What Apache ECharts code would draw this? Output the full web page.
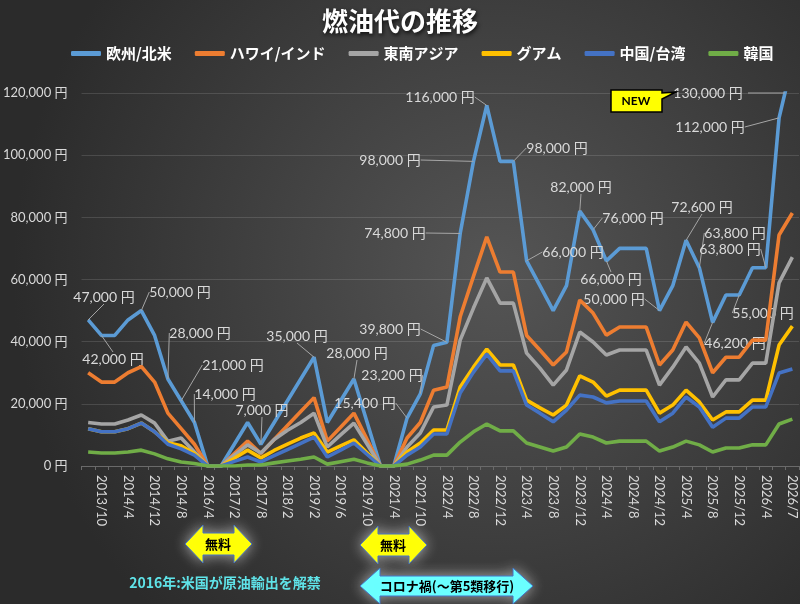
<!DOCTYPE html>
<html>
<head>
<meta charset="utf-8">
<script src="https://cdn.jsdelivr.net/npm/echarts@6/dist/echarts.min.js"></script>
<style>
  html, body { margin: 0; padding: 0; background: #333; }
  #chart { width: 800px; height: 604px; }
</style>
</head>
<body>
<div id="chart"></div>
<script>
// tick labels (shown on every other point)
const tickLabels = ['2013/10', '2014/4', '2014/12', '2014/8', '2016/4', '2017/2', '2017/8', '2018/2',
  '2019/2', '2019/6', '2019/10', '2021/4', '2021/10', '2022/4', '2022/8', '2022/12', '2023/4',
  '2023/8', '2023/12', '2024/4', '2024/8', '2024/12', '2025/4', '2025/8', '2025/12', '2026/4', '2026/7'];

const seriesNames = ['欧州/北米', 'ハワイ/インド', '東南アジア', 'グアム', '中国/台湾', '韓国'];

const europe = [47000, 42000, 42000, 47000, 50000, 42000, 28000, 21000, 14000, 0,
  0, 7000, 14000, 7000, 14000, 21000, 28000, 35000, 14000, 21000,
  28000, 14000, 0, 0, 15400, 23200, 38800, 39800, 74800, 98000,
  116000, 98000, 98000, 66000, 58000, 50000, 58000, 82000, 76000, 66000,
  70000, 70000, 70000, 50000, 58000, 72600, 63800, 46200, 55000, 55000,
  63800, 63800, 112000, 130000];
const hawaii = [30000, 27000, 27000, 30000, 32000, 27000, 17000, 12000, 7000, 0,
  0, 4000, 8000, 4000, 8500, 13000, 17500, 22000, 8000, 12500,
  17000, 8500, 0, 0, 9000, 14000, 24400, 25400, 48000, 61000,
  73700, 62400, 62400, 42000, 37300, 32500, 36700, 53400, 49200, 42100,
  44700, 44700, 44700, 32500, 37300, 46300, 41200, 30000, 35000, 35000,
  40500, 40500, 74300, 81400];
const seAsia = [14000, 13500, 13500, 14800, 16400, 13800, 8000, 9000, 4500, 0,
  0, 3500, 6800, 4200, 8500, 11500, 14000, 17000, 6100, 10000,
  13800, 7000, 0, 0, 6100, 10600, 19000, 19600, 40500, 50800,
  60500, 52400, 52400, 36300, 31500, 26000, 30900, 43100, 39900, 35700,
  37300, 37300, 37300, 26000, 31800, 38300, 33100, 22200, 27700, 27700,
  33100, 33100, 58900, 67200];
const guam = [12000, 11000, 11000, 12000, 13800, 11000, 7500, 6500, 4000, 0,
  0, 2500, 5100, 2600, 5000, 7000, 9000, 10600, 4500, 6500,
  8400, 4200, 0, 0, 4500, 7400, 11600, 11600, 25400, 31800,
  37600, 32500, 32500, 21200, 18700, 16400, 19600, 29000, 27000, 22500,
  24400, 24400, 24400, 17000, 19600, 24400, 20600, 14800, 17400, 17400,
  21200, 21200, 38900, 45000];
const chinaTw = [12000, 11000, 11000, 12000, 13800, 11000, 7000, 5500, 3500, 0,
  0, 1500, 2900, 1300, 3300, 5300, 7300, 9300, 2900, 5100,
  7400, 3700, 0, 0, 3500, 6100, 10300, 10300, 23500, 30200,
  36000, 30600, 30600, 19600, 17000, 14200, 18000, 22800, 22200, 20300,
  20900, 20900, 20900, 14200, 17000, 22200, 19000, 12500, 15400, 15400,
  19000, 19000, 29900, 31200];
const korea = [4500, 4200, 4200, 4500, 5100, 3900, 2300, 1300, 800, 0,
  0, 0, 300, 300, 1000, 1600, 2200, 2900, 600, 1400,
  2200, 1000, 0, 0, 600, 1900, 3500, 3500, 7700, 11000,
  13500, 11300, 11300, 7400, 6100, 4800, 6100, 10300, 9300, 7400,
  8000, 8000, 8000, 4800, 6100, 8000, 6800, 4500, 5800, 5800,
  6800, 6800, 13500, 15100];

const colors = ['#5B9BD5', '#ED7D31', '#A5A5A5', '#FFC000', '#4472C4', '#70AD47'];

// where the callout labels of the 欧州/北米 line sit (label centre, px)
const labelPos = {
  0: [104, 297], 1: [113, 359], 4: [180, 292], 6: [200, 333], 7: [233, 365], 8: [225, 394],
  13: [262, 410], 17: [297, 336], 20: [357, 353], 24: [365, 403], 25: [392, 375], 27: [390, 329],
  28: [395, 233], 29: [390, 160], 30: [440, 97], 32: [557, 148], 33: [573, 252], 37: [581, 187],
  38: [633, 218], 39: [611, 279], 43: [614, 299], 45: [702, 207], 46: [735, 233], 47: [735, 343],
  49: [763, 313], 51: [730, 249], 52: [710, 127]
};

const categories = [''];
tickLabels.forEach((t, i) => {
  categories.push(t);
  if (i < tickLabels.length - 1) categories.push('');
});

const numFont = 'Lato, "Noto Sans CJK JP", sans-serif';
const jpFont = '"Noto Sans CJK JP", sans-serif';
const yen = (v) => v.toLocaleString('en-US') + ' 円';

const allData = [europe, hawaii, seAsia, guam, chinaTw, korea];

const series = allData.map((arr, si) => {
  const s = {
    name: seriesNames[si],
    type: 'line',
    data: arr,
    symbol: 'circle',
    symbolSize: 0.01,
    showSymbol: true,
    showAllSymbol: true,
    clip: true,
    lineStyle: { width: 3.6, color: colors[si] },
    itemStyle: { color: colors[si] },
    emphasis: { disabled: true },
    z: 2 + si
  };
  if (si === 0) {
    s.z = 2;
    s.data = arr.map((v, i) => {
      if (!labelPos[i]) return v;
      return {
        value: v,
        label: {
          show: true,
          formatter: yen(v),
          color: '#d9d9d9',
          fontSize: 14,
          fontFamily: numFont
        },
        labelLine: { show: true, lineStyle: { color: '#a6a6a6', width: 1 } }
      };
    });
    s.labelLayout = function (p) {
      const o = labelPos[p.dataIndex];
      if (!o) return {};
      return { x: o[0], y: o[1], align: 'center', verticalAlign: 'middle' };
    };
  }
  return s;
});

function arrow(x0, x1, cy, hh, sh, hl) {
  return [[x0, cy], [x0 + hl, cy - hh], [x0 + hl, cy - sh], [x1 - hl, cy - sh], [x1 - hl, cy - hh],
    [x1, cy], [x1 - hl, cy + hh], [x1 - hl, cy + sh], [x0 + hl, cy + sh], [x0 + hl, cy + hh]];
}

const glow = { shadowBlur: 14, shadowColor: 'rgba(255,255,255,0.55)' };

const myChart = echarts.init(document.getElementById('chart'));
myChart.setOption({
  backgroundColor: {
    type: 'radial', x: 0.62, y: 0.45, r: 0.8,
    colorStops: [{ offset: 0, color: '#555555' }, { offset: 1, color: '#2b2b2b' }]
  },
  color: colors,
  animation: false,
  title: {
    text: '燃油代の推移',
    left: 'center',
    top: 3,
    textStyle: {
      color: '#ffffff', fontSize: 26, fontWeight: 'bold', fontFamily: jpFont,
      textShadowColor: 'rgba(0,0,0,0.8)', textShadowBlur: 4, textShadowOffsetX: 1, textShadowOffsetY: 2
    }
  },
  legend: {
    data: seriesNames,
    top: 41,
    left: 66,
    icon: 'roundRect',
    itemWidth: 30,
    itemHeight: 5,
    itemGap: 23,
    textStyle: { color: '#ffffff', fontSize: 15, fontWeight: 'bold', fontFamily: jpFont }
  },
  grid: { left: 81, right: 1, top: 93, bottom: 138 },
  xAxis: {
    type: 'category',
    data: categories,
    boundaryGap: true,
    axisLine: { lineStyle: { color: '#6a6a6a' } },
    axisTick: { show: true, interval: 0, length: 4, lineStyle: { color: '#6a6a6a' } },
    axisLabel: {
      interval: 0, rotate: -90, margin: 9,
      color: '#d9d9d9', fontSize: 13, fontFamily: numFont
    }
  },
  yAxis: {
    type: 'value',
    min: 0,
    max: 120000,
    interval: 20000,
    axisLine: { show: false },
    axisTick: { show: false },
    splitLine: { lineStyle: { color: 'rgba(255,255,255,0.13)', width: 1 } },
    axisLabel: { formatter: yen, color: '#d9d9d9', fontSize: 13, margin: 14, fontFamily: numFont }
  },
  series: series,
  graphic: [
    // 130,000 円 (clipped point) callout
    { type: 'polyline', shape: { points: [[748, 93], [785, 93]] }, style: { stroke: '#a6a6a6', lineWidth: 1 }, z: 20 },
    { type: 'text', x: 708, y: 93, style: { text: yen(europe[53]), fill: '#d9d9d9', font: '14px ' + numFont, align: 'center', verticalAlign: 'middle' }, z: 20 },
    { type: 'polygon', shape: { points: [[611, 90], [662, 90], [662, 93], [676, 92], [662, 99], [662, 112], [611, 112]] },
      style: { fill: '#ffff00', stroke: '#000000', lineWidth: 1.5 }, z: 20 },
    { type: 'text', x: 636, y: 101, style: { text: 'NEW', fill: '#000', font: 'bold 12px ' + numFont, align: 'center', verticalAlign: 'middle' }, z: 21 },
    // free period arrows
    { type: 'polygon', shape: { points: arrow(185, 252, 544, 19, 11, 18) },
      style: Object.assign({ fill: '#ffff00', stroke: '#4472c4', lineWidth: 1 }, glow), z: 20 },
    { type: 'text', x: 218, y: 544, style: { text: '無料', fill: '#000', font: 'bold 13px ' + jpFont, align: 'center', verticalAlign: 'middle' }, z: 21 },
    { type: 'polygon', shape: { points: arrow(360, 427, 545, 19, 11, 18) },
      style: Object.assign({ fill: '#ffff00', stroke: '#4472c4', lineWidth: 1 }, glow), z: 20 },
    { type: 'text', x: 393, y: 545, style: { text: '無料', fill: '#000', font: 'bold 13px ' + jpFont, align: 'center', verticalAlign: 'middle' }, z: 21 },
    { type: 'polygon', shape: { points: arrow(360, 533, 586, 18, 10, 20) },
      style: Object.assign({ fill: '#66ffff', stroke: '#4472c4', lineWidth: 1 }, glow), z: 20 },
    { type: 'text', x: 447, y: 586, style: { text: 'コロナ禍(～第5類移行)', fill: '#000', font: 'bold 13px ' + jpFont, align: 'center', verticalAlign: 'middle' }, z: 21 },
    { type: 'text', x: 225, y: 583, style: { text: '2016年:米国が原油輸出を解禁', fill: '#5fe3e8', font: 'bold 14px ' + jpFont, align: 'center', verticalAlign: 'middle' }, z: 21 }
  ]
});
</script>
</body>
</html>
